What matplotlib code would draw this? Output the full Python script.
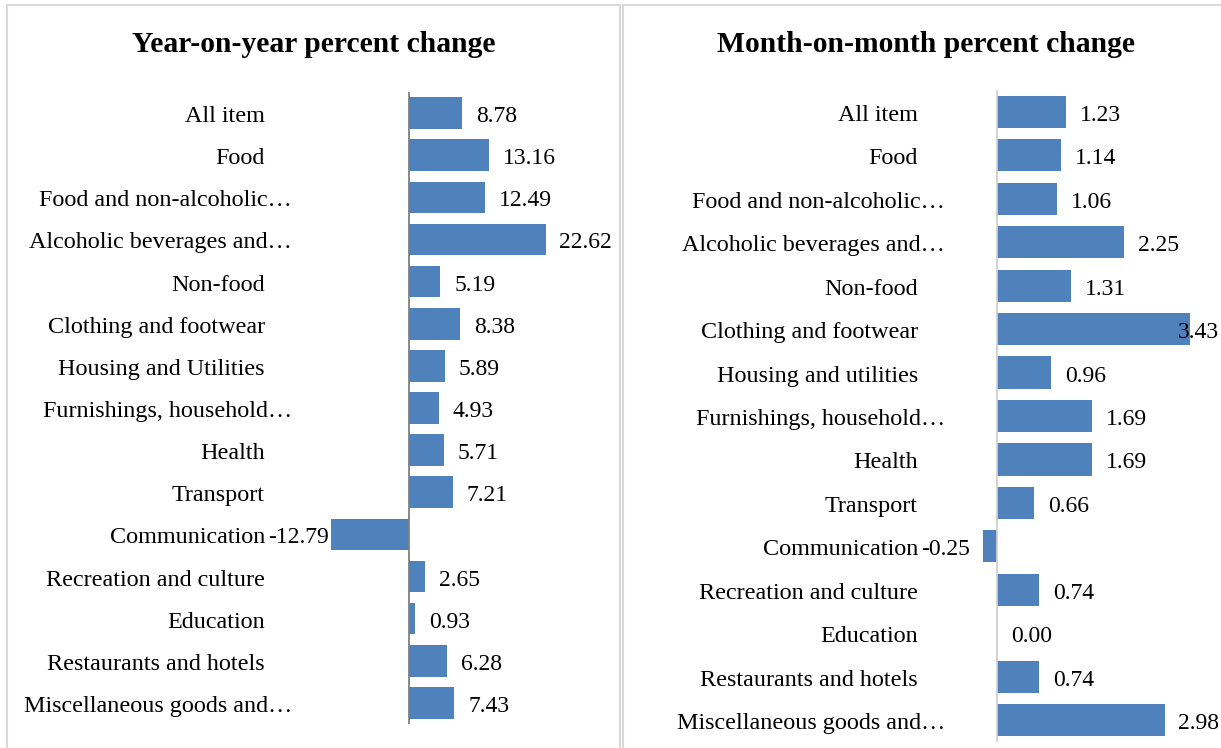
import matplotlib
matplotlib.use('Agg')
import matplotlib.pyplot as plt
from matplotlib.patches import Rectangle
from matplotlib.transforms import ScaledTranslation

# Year-on-year panel
yoy_labels = ['All item', 'Food', 'Food and non-alcoholic…', 'Alcoholic beverages and…',
              'Non-food', 'Clothing and footwear', 'Housing and Utilities',
              'Furnishings, household…', 'Health', 'Transport', 'Communication',
              'Recreation and culture', 'Education', 'Restaurants and hotels',
              'Miscellaneous goods and…']
yoy_values = [8.78, 13.16, 12.49, 22.62, 5.19, 8.38, 5.89, 4.93, 5.71, 7.21,
              -12.79, 2.65, 0.93, 6.28, 7.43]

# Month-on-month panel
mom_labels = ['All item', 'Food', 'Food and non-alcoholic…', 'Alcoholic beverages and…',
              'Non-food', 'Clothing and footwear', 'Housing and utilities',
              'Furnishings, household…', 'Health', 'Transport', 'Communication',
              'Recreation and culture', 'Education', 'Restaurants and hotels',
              'Miscellaneous goods and…']
mom_values = [1.23, 1.14, 1.06, 2.25, 1.31, 3.43, 0.96, 1.69, 1.69, 0.66,
              -0.25, 0.74, 0.00, 0.74, 2.98]

plt.rcParams['font.family'] = ['Liberation Serif', 'DejaVu Serif']

W, H = 1221, 748
fig = plt.figure(figsize=(W / 100, H / 100), dpi=100)


def px_axes(left, top, right, bottom):
    return fig.add_axes([left / W, 1 - bottom / H, (right - left) / W, (bottom - top) / H])


# panel frames
fig.patches.append(Rectangle((7 / W, -0.05), (620 - 7) / W, 1.05 - 5 / H, transform=fig.transFigure,
                             fill=False, edgecolor='#d9d9d9', lw=1.5))
fig.patches.append(Rectangle((623 / W, -0.05), 0.5, 1.05 - 5 / H, transform=fig.transFigure,
                             fill=False, edgecolor='#d9d9d9', lw=1.5))

fig.text(314 / W, 1 - 45 / H, 'Year-on-year percent change', ha='center', va='center',
         fontsize=21.3, fontweight='bold')
fig.text(926 / W, 1 - 45 / H, 'Month-on-month percent change', ha='center', va='center',
         fontsize=21.3, fontweight='bold')


def shift_px(ax, dx, dy):
    return ax.get_yaxis_transform() + ScaledTranslation(dx / 100, dy / 100, fig.dpi_scale_trans)


def draw_panel(ax, labels, values, xlim, bar_h, zero_color):
    pos = list(range(len(labels)))
    ax.barh(pos, values, height=bar_h, color='#4f81bd')
    ax.set_xlim(*xlim)
    ax.set_ylim(len(labels) - 0.5, -0.5)
    for s in ax.spines.values():
        s.set_visible(False)
    ax.axvline(0, color=zero_color, lw=1.3)
    ax.set_xticks([])
    ax.set_yticks([])
    ax.patch.set_alpha(0)
    # category labels; truncated ones spill a bit to the right, as in the original
    for i, lab in enumerate(labels):
        dx = 24 if lab.endswith('…') else -3
        ax.text(0, i, lab, transform=shift_px(ax, dx, -9), ha='right', va='baseline',
                fontsize=17.4, clip_on=False)
    anns = []
    for i, v in enumerate(values):
        off = 14 if v >= 0 else -19
        a = ax.annotate(f'{v:.2f}', xy=(v, i), xytext=(off, -9), textcoords='offset pixels',
                        ha='left' if v >= 0 else 'right', va='baseline', fontsize=17)
        anns.append(a)
    return anns


ax1 = px_axes(268, 92, 612, 724)
scale1 = 6.06
anns1 = draw_panel(ax1, yoy_labels, yoy_values, ((268 - 409) / scale1, (612 - 409) / scale1),
                   0.75, '#808080')

ax2 = px_axes(921, 90, 1219, 742)
scale2 = 56.3
anns2 = draw_panel(ax2, mom_labels, mom_values, ((921 - 997) / scale2, (1219 - 997) / scale2),
                   0.74, '#d0d0d0')

# keep data labels inside the plot area, like the spreadsheet does
fig.canvas.draw()
r = fig.canvas.get_renderer()
for ax, anns in ((ax1, anns1), (ax2, anns2)):
    abb = ax.get_window_extent(r)
    for a in anns:
        bb = a.get_window_extent(r)
        dx = 0
        if bb.x0 < abb.x0:
            dx = abb.x0 - bb.x0
        elif bb.x1 > abb.x1:
            dx = abb.x1 - bb.x1
        if dx:
            a.xyann = (a.xyann[0] + dx, a.xyann[1])

fig.savefig('out.png', dpi=100)
